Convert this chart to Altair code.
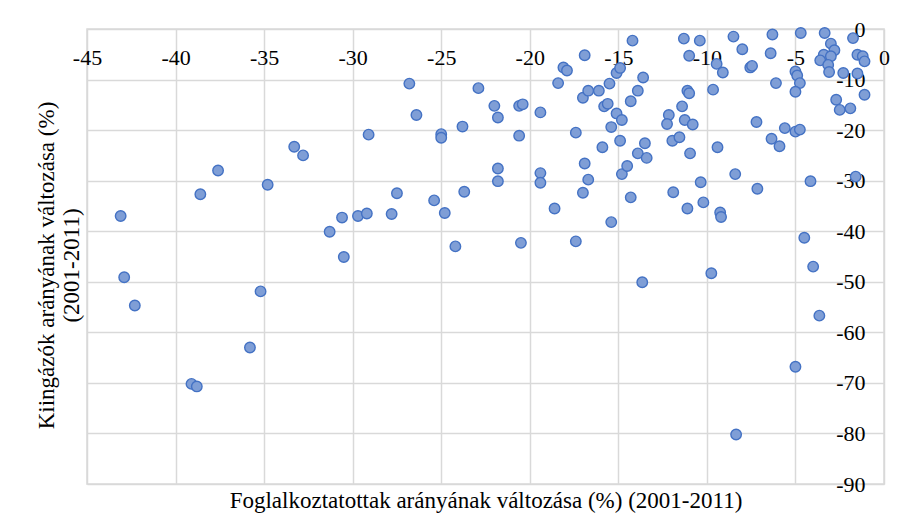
import altair as alt
import pandas as pd

# Foglalkoztatottak arányának változása (%) (2001-2011)
x_vals = [
    -43.1, -37.6, -38.6, -34.8, -33.3, -32.8, -30.6, -31.3, -30.5, -29.7,
    -29.2, -29.1, -27.8, -27.5, -26.8, -26.4, -25.4, -25.0, -25.0, -24.8,
    -24.2, -23.8, -23.7, -22.9, -22.0, -21.8, -21.8, -21.8, -20.6, -20.4,
    -20.6, -20.5, -19.4, -19.4, -19.4, -18.6, -18.4, -18.1, -17.9, -17.4,
    -17.4, -16.9, -17.0, -16.7, -16.9, -16.7, -17.0, -16.1, -15.9, -15.8,
    -15.6, -15.5, -15.4, -15.4, -15.1, -14.9, -15.1, -14.8, -14.9, -14.8,
    -14.5, -14.3, -14.3, -14.2, -13.9, -13.9, -13.6, -13.5, -13.4, -11.3,
    -10.4, -11.0, -9.45, -9.1, -8.5, -8.0, -7.55, -7.45, -6.3, -6.4,
    -6.1, -4.7, -5.0, -4.9, -4.75, -5.0, -3.35, -3.0, -2.8, -3.4,
    -3.0, -3.6, -3.15, -3.1, -1.75, -1.5, -1.2, -1.1, -2.3, -1.5,
    -1.1, -2.7, -2.5, -1.9, -1.6, -4.15, -4.5, -4.0, -5.6, -5.0,
    -4.75, -6.35, -5.9, -7.2, -8.4, -7.15, -9.4, -9.65, -11.1, -11.0,
    -11.4, -12.15, -12.25, -11.25, -10.8, -11.95, -11.55, -10.95, -10.35, -11.9,
    -10.2, -11.1, -9.25, -9.2, -9.75, -13.65, -5.0, -3.65, -8.35, -42.9,
    -42.3, -35.2, -35.8, -39.1, -38.8,
]
# Kiingázók arányának változása (%) (2001-2011)
y_vals = [
    -37.0, -28.0, -32.7, -30.8, -23.3, -25.0, -37.3, -40.1, -45.1, -37.0,
    -36.5, -20.9, -36.6, -32.5, -10.8, -17.0, -33.9, -20.8, -21.5, -36.4,
    -43.0, -19.3, -32.2, -11.7, -15.2, -17.5, -27.6, -30.1, -15.2, -14.9,
    -21.1, -42.3, -16.5, -28.5, -30.4, -35.5, -10.7, -7.6, -8.2, -20.5,
    -42.0, -5.2, -13.6, -12.2, -26.6, -29.8, -32.4, -12.2, -23.4, -15.3,
    -14.8, -10.8, -19.4, -38.2, -8.7, -7.7, -16.7, -18.0, -22.1, -28.7,
    -27.1, -33.3, -14.3, -2.3, -24.6, -12.2, -9.6, -22.6, -25.5, -1.9,
    -2.3, -5.3, -6.9, -8.6, -1.5, -4.0, -7.6, -7.3, -1.1, -4.8,
    -10.7, -0.8, -8.4, -9.2, -10.7, -12.4, -0.8, -2.9, -4.2, -5.1,
    -5.4, -6.2, -7.1, -8.5, -1.8, -5.1, -5.4, -6.4, -8.7, -8.8,
    -13.0, -14.0, -16.0, -15.7, -29.2, -30.1, -41.3, -47.0, -19.6, -20.3,
    -19.9, -21.7, -23.2, -18.4, -28.7, -31.6, -23.4, -12.0, -12.2, -12.7,
    -15.3, -17.0, -18.8, -18.0, -18.9, -22.1, -21.4, -24.6, -30.3, -32.3,
    -34.3, -35.5, -36.3, -37.2, -48.3, -50.1, -66.8, -56.7, -80.2, -49.1,
    -54.7, -51.9, -63.0, -70.2, -70.7,
]

x_ticks = [-45, -40, -35, -30, -25, -20, -15, -10, -5, 0]
y_ticks = [-90, -80, -70, -60, -50, -40, -30, -20, -10, 0]

x_title = "Foglalkoztatottak arányának változása (%) (2001-2011)"
y_title = ["Kiingázók arányának változása (%)", "(2001-2011)"]

df = pd.DataFrame({"x": x_vals, "y": y_vals})

FONT = "Liberation Serif"
W, H = 797, 455
LABEL_SIZE = 22
TITLE_SIZE = 23

chart = (
    alt.Chart(df)
    .mark_point(
        shape="circle",
        filled=True,
        fill="#7f9ed6",
        stroke="#4472c4",
        strokeWidth=1.4,
        size=110,
        opacity=1,
    )
    .encode(
        x=alt.X(
            "x:Q",
            scale=alt.Scale(domain=[-45, 0], nice=False, zero=False),
            axis=alt.Axis(
                orient="top",
                values=x_ticks,
                labelExpr="'' + datum.value",
                title=x_title,
                titleX=W / 2,
                titleY=H + 16,
                titleAlign="center",
                titleBaseline="middle",
                titleAngle=0,
                titleFont=FONT,
                titleFontSize=TITLE_SIZE,
                titleFontWeight="normal",
                titleColor="black",
                labelFont=FONT,
                labelFontSize=LABEL_SIZE,
                labelColor="black",
                labelPadding=-28,
                labelBaseline="middle",
                labelAlign="center",
                labelFlush=False,
                labelOverlap=False,
                labelBound=False,
                ticks=False,
                tickSize=0,
                domain=False,
                grid=True,
                gridColor="#d9d9d9",
                gridWidth=1.5,
            ),
        ),
        y=alt.Y(
            "y:Q",
            scale=alt.Scale(domain=[-90, 0], nice=False, zero=False),
            axis=alt.Axis(
                orient="right",
                values=y_ticks,
                labelExpr="'' + datum.value",
                title=y_title,
                titleX=46 - 884,
                titleY=236,
                titleAngle=270,
                titleAlign="center",
                titleBaseline="middle",
                titleLineHeight=25,
                titleFont=FONT,
                titleFontSize=TITLE_SIZE,
                titleFontWeight="normal",
                titleColor="black",
                labelFont=FONT,
                labelFontSize=LABEL_SIZE,
                labelColor="black",
                labelPadding=-19,
                labelAlign="right",
                labelBaseline="middle",
                labelFlush=False,
                labelOverlap=False,
                labelBound=False,
                ticks=False,
                tickSize=0,
                domain=False,
                grid=True,
                gridColor="#d9d9d9",
                gridWidth=1.5,
            ),
        ),
    )
    .properties(
        width=W,
        height=H,
        autosize=alt.AutoSizeParams(type="none"),
        padding={"left": 79, "top": 21, "right": 16, "bottom": 40},
        background="white",
    )
    .configure_view(stroke="#d9d9d9", strokeWidth=1.5)
)

chart.save("out.html", embed_options={"renderer": "svg", "actions": False})
